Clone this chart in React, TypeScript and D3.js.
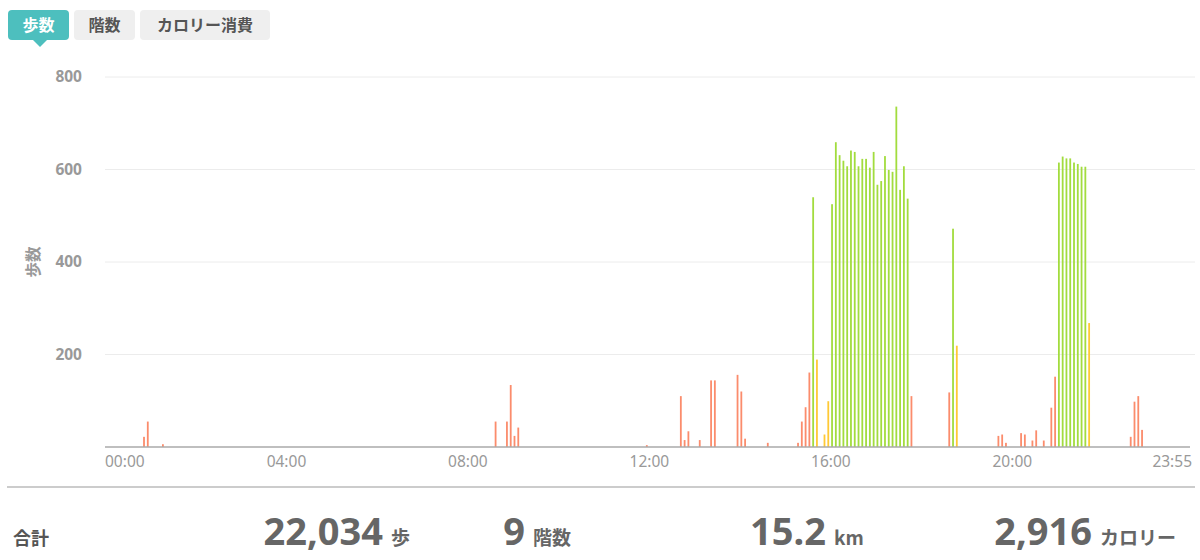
import React, { useEffect, useRef } from "react";
import * as d3 from "d3";

// 5-minute step buckets
const stepTimes = [
  "00:50", "00:55", "01:15",
  "08:35", "08:50", "08:55", "09:00", "09:05",
  "11:55", "12:40", "12:45", "12:50", "13:05", "13:20", "13:25",
  "13:55", "14:00", "14:05", "14:35",
  "15:15", "15:20", "15:25", "15:30", "15:35", "15:40", "15:50", "15:55",
  "16:00", "16:05", "16:10", "16:15", "16:20", "16:25", "16:30", "16:35",
  "16:40", "16:45", "16:50", "16:55", "17:00", "17:05", "17:10", "17:15",
  "17:20", "17:25", "17:30", "17:35", "17:40", "17:45",
  "18:35", "18:40", "18:45",
  "19:40", "19:45", "19:50", "20:10", "20:15", "20:25", "20:30", "20:40",
  "20:50", "20:55", "21:00", "21:05", "21:10", "21:15", "21:20", "21:25",
  "21:30", "21:35", "21:40",
  "22:35", "22:40", "22:45", "22:50",
];
const stepValues = [
  22, 55, 6,
  55, 55, 134, 24, 42,
  4, 110, 15, 34, 15, 144, 144,
  156, 120, 18, 9,
  9, 55, 86, 161, 540, 189, 27, 99,
  525, 659, 631, 619, 607, 641, 638, 607,
  623, 623, 604, 638, 567, 575, 629, 599,
  595, 736, 556, 607, 537, 110,
  118, 472, 219,
  24, 27, 9, 30, 27, 14, 36, 14,
  85, 152, 615, 628, 624, 624, 615, 612,
  606, 606, 268,
  22, 98, 110, 37,
];
// activity zone per bucket: l = light, m = moderate, h = high
const stepZones = [
  "l", "l", "l",
  "l", "l", "l", "l", "l",
  "l", "l", "l", "l", "l", "l", "l",
  "l", "l", "l", "l",
  "l", "l", "l", "l", "h", "m", "m", "m",
  "h", "h", "h", "h", "h", "h", "h", "h",
  "h", "h", "h", "h", "h", "h", "h", "h",
  "h", "h", "h", "h", "h", "l",
  "l", "h", "m",
  "l", "l", "l", "l", "l", "l", "l", "l",
  "l", "l", "h", "h", "h", "h", "h", "h",
  "h", "h", "m",
  "l", "l", "l", "l",
];

const yTicks = [200, 400, 600, 800];
const xTickLabels = ["00:00", "04:00", "08:00", "12:00", "16:00", "20:00", "23:55"];
const tabLabels = ["歩数", "階数", "カロリー消費"];
const summaryValues = ["22,034", "9", "15.2", "2,916"];
const summaryUnits = ["歩", "階数", "km", "カロリー"];

const zoneColor: Record<string, string> = { l: "#fb8c6c", m: "#ffc935", h: "#a2dc3e" };
const toMin = (t: string) => {
  const [h, m] = t.split(":").map(Number);
  return h * 60 + m;
};

export default function App() {
  const svgRef = useRef<SVGSVGElement>(null);

  useEffect(() => {
    if (!svgRef.current) return;
    const svg = d3.select(svgRef.current);
    svg.selectAll("*").remove();

    const jp = "'Noto Sans CJK JP', 'Noto Sans', sans-serif";
    const num = "'Noto Sans', 'Noto Sans CJK JP', sans-serif";

    const x = d3.scaleLinear().domain([0, toMin("23:55")]).range([105, 1190]);
    const y = d3.scaleLinear().domain([0, 800]).range([447, 77]);

    // tabs
    const tabX = [8, 74, 140];
    const tabW = [61, 61, 130];
    const tabs = svg.append("g");
    tabLabels.forEach((label, i) => {
      const active = i === 0;
      tabs.append("rect")
        .attr("x", tabX[i]).attr("y", 10)
        .attr("width", tabW[i]).attr("height", 30)
        .attr("rx", 4)
        .attr("fill", active ? "#4dbfbe" : "#efefef");
      tabs.append("text")
        .attr("x", tabX[i] + tabW[i] / 2).attr("y", 25)
        .attr("dy", "0.35em")
        .attr("text-anchor", "middle")
        .attr("font-family", jp).attr("font-weight", 700).attr("font-size", 16)
        .attr("fill", active ? "#fff" : "#555")
        .text(label);
    });
    tabs.append("path")
      .attr("d", "M33,40 L47,40 L40,47 Z")
      .attr("fill", "#4dbfbe");

    // gridlines
    svg.append("g").selectAll("line").data(yTicks).join("line")
      .attr("x1", 105).attr("x2", 1195)
      .attr("y1", d => y(d)).attr("y2", d => y(d))
      .attr("stroke", "#ececec").attr("stroke-width", 1);

    // y tick labels
    svg.append("g").selectAll("text").data(yTicks).join("text")
      .attr("x", 82).attr("y", d => y(d)).attr("dy", "0.35em")
      .attr("text-anchor", "end")
      .attr("font-family", num).attr("font-weight", 700).attr("font-size", 15.5)
      .attr("fill", "#999")
      .text(d => d);

    svg.append("text")
      .attr("transform", "translate(34,262) rotate(-90)")
      .attr("text-anchor", "middle").attr("dy", "0.35em")
      .attr("font-family", jp).attr("font-weight", 700).attr("font-size", 15.5)
      .attr("fill", "#999")
      .text("歩数");

    // bars
    const bars = stepTimes.map((t, i) => ({ m: toMin(t), v: stepValues[i], z: stepZones[i] }));
    svg.append("g").selectAll("rect").data(bars).join("rect")
      .attr("x", d => x(d.m) + 0.3)
      .attr("width", 1.8)
      .attr("y", d => y(d.v))
      .attr("height", d => y(0) - y(d.v))
      .attr("fill", d => zoneColor[d.z]);

    // baseline
    svg.append("line")
      .attr("x1", 105).attr("x2", 1190)
      .attr("y1", y(0)).attr("y2", y(0))
      .attr("stroke", "#aaa").attr("stroke-width", 1.5);

    // x labels
    svg.append("g").selectAll("text").data(xTickLabels).join("text")
      .attr("x", (d, i) => (i === xTickLabels.length - 1 ? x(toMin(d)) + 2 : x(toMin(d))))
      .attr("y", 462).attr("dy", "0.35em")
      .attr("text-anchor", (d, i) => (i === 0 ? "start" : i === xTickLabels.length - 1 ? "end" : "middle"))
      .attr("font-family", num).attr("font-size", 15.5)
      .attr("fill", "#999")
      .text(d => d);

    // separator
    svg.append("line")
      .attr("x1", 7).attr("x2", 1195)
      .attr("y1", 487).attr("y2", 487)
      .attr("stroke", "#ccc").attr("stroke-width", 2);

    // summary row
    svg.append("text")
      .attr("x", 13).attr("y", 545)
      .attr("font-family", jp).attr("font-weight", 700).attr("font-size", 18)
      .attr("fill", "#555")
      .text("合計");

    const numRight = [383, 525, 826, 1092];
    summaryValues.forEach((v, i) => {
      svg.append("text")
        .attr("x", numRight[i]).attr("y", 545)
        .attr("text-anchor", "end")
        .attr("font-family", num).attr("font-weight", 700).attr("font-size", 38)
        .attr("fill", "#666")
        .text(v);
      svg.append("text")
        .attr("x", numRight[i] + 8).attr("y", 545)
        .attr("font-family", jp).attr("font-weight", 700).attr("font-size", 19)
        .attr("fill", "#666")
        .text(summaryUnits[i]);
    });
  }, []);

  return (
    <div style={{ position: "absolute", left: 0, top: 0, width: 1200, height: 560, background: "#fff" }}>
      <svg ref={svgRef} width={1200} height={560} style={{ display: "block" }} />
    </div>
  );
}
